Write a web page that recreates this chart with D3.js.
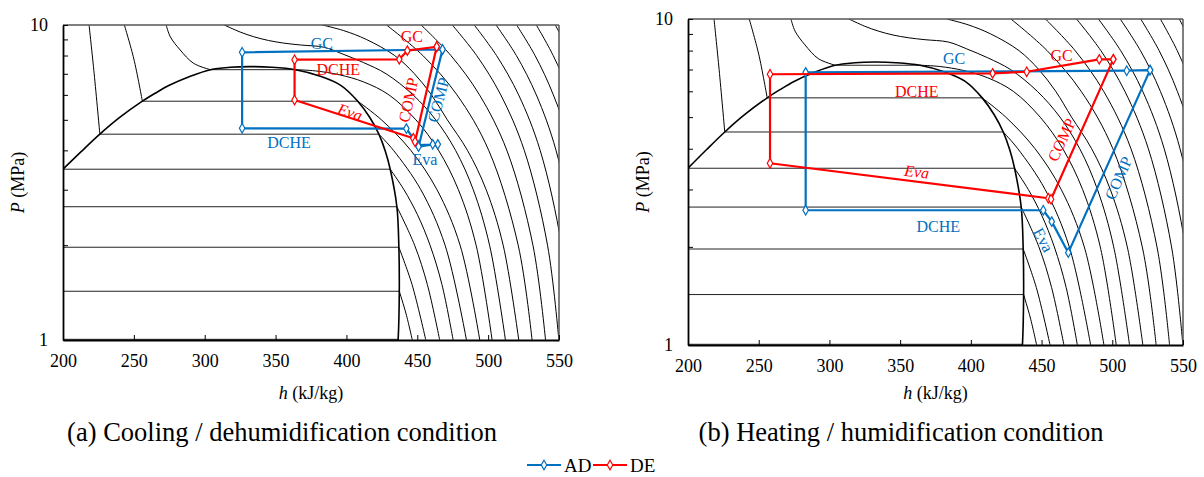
<!DOCTYPE html>
<html>
<head>
<meta charset="utf-8">
<script src="https://cdn.jsdelivr.net/npm/d3@7"></script>
<style>
  body { margin: 0; background: #fff; }
  svg { display: block; }
  text { font-family: "Liberation Serif", "Times New Roman", serif; fill: #000; }
</style>
</head>
<body>
<svg id="chart" width="1204" height="477"></svg>
<script>
// ---- axes ----
const hTicks = [200, 250, 300, 350, 400, 450, 500, 550];
const pLabels = [1, 10];
const pMinor = [2, 3, 4, 5, 6, 7, 8, 9];

// ---- CO2 saturation dome, [h kJ/kg, P MPa] ----
const satLiquid = [[200,3.485],[213,3.97],[226,4.502],[240,5.086],[256,5.729],[265,6.07],[275,6.434],[289,6.85],[304,7.214],[318,7.34],[332,7.377]];
const satVapor = [[332,7.377],[347,7.345],[364,7.214],[381,6.89],[396,6.434],[408,5.729],[416.5,5.086],[422.9,4.502],[427.5,3.97],[430.9,3.485],[435.6,2.649],[437,1.97],[437.3,1.428],[436.5,1.005],[436.3,0.98]];

// ---- two-phase isotherms -40 ... 30 °C: [P, h liquid, h vapour] ----
const twoPhase = [[1.005,113,436.5],[1.428,133,437.3],[1.97,155,437],[2.649,177,435.6],[3.485,200,430.9],[4.502,226,422.9],[5.729,256,408],[7.214,304,364]];

// ---- compressed-liquid isotherms ----
const liq10 = [[226,4.502],[222,7],[218.4,10]];
const liq20 = [[256,5.729],[250,7.8],[243.3,10]];
const liq30 = [[304,7.214],[292.1,7.56],[282.7,8.33],[275.7,9.18],[272.8,10]];

// ---- vapour / supercritical isotherms ----
const iso_m30 = [[446.5,1],[442.1,1.21],[437.3,1.428]];
const iso_m20 = [[456,1],[446.3,1.5],[437,1.97]];
const iso_m10 = [[465.8,1],[457.1,1.5],[448.1,2],[435.6,2.649]];
const iso_0 = [[475.3,1],[467.4,1.5],[459,2],[450.1,2.5],[440.6,3],[430.9,3.485]];
const iso_10 = [[484.7,1],[469.6,2],[452.5,3],[433.2,4],[422.9,4.502]];
const iso_20 = [[494.1,1],[480.2,2],[463.9,3],[445.4,4],[424.7,5],[408,5.729]];
const iso_30 = [[502.8,1],[491.5,2],[479,3],[465,4],[449,5],[430,6],[412,6.6],[395,6.95],[378,7.15],[364,7.214]];
const iso_40 = [[512.2,1],[501,2],[489.5,3],[477,4],[463,5],[447,6],[428,7],[412,7.6],[397,8.1],[384,8.5],[367.6,8.64],[355.8,8.76],[345,8.93],[334.6,9.18],[325,9.5],[313.8,10]];
const iso_50 = [[521.6,1],[510.6,2],[498.6,3],[485.4,4],[471.2,5],[460,6],[448,7],[434,8],[414,9],[398,9.6],[383,10]];
const iso_60 = [[531,1],[521.2,2],[500.4,4],[478,6],[453.9,8],[428.3,10]];
const iso_70 = [[540.5,1],[531.6,2],[513.2,4],[493.9,6],[473.7,8],[452.7,10]];
const iso_80 = [[549.9,1],[541.9,2],[525.5,4],[508.9,6],[491.9,8],[474.7,10]];
const iso_90 = [[559.2,1],[551.8,2],[536.7,4],[521.5,6],[505.9,8],[490.2,10]];
const iso_100 = [[568.5,1],[561.7,2],[547.9,4],[534,6],[519.9,8],[505.6,10]];
const iso_110 = [[577.8,1],[558.8,4],[546,6],[533.1,8],[520.1,10]];
const iso_120 = [[587.1,1],[569.7,4],[557.8,6],[545.9,8],[534,10]];
const iso_130 = [[596.4,1],[569.3,6],[558.3,8],[547.4,10]];

// ---- cycles [h, P] ----
const coolAD = [[467.8,8.36],[326.4,8.19],[326.4,4.70],[442.3,4.69],[450.5,4.16],[464.5,4.18],[460.9,4.18],[450.9,4.11],[467.8,8.36]];
const coolDE = [[463.7,8.53],[443.0,8.29],[437.3,7.78],[363.4,7.76],[363.4,5.78],[447.2,4.37],[448.4,4.26],[463.7,8.53]];
const heatAD = [[526.7,6.97],[510.2,6.94],[283.2,6.86],[283.2,2.59],[451.2,2.59],[457.2,2.39],[468.9,1.92],[526.7,6.97]];
const heatDE = [[500.7,7.52],[490.8,7.52],[439.5,6.89],[415.4,6.81],[258.0,6.77],[258.0,3.61],[454.8,2.82],[456.7,2.80],[500.7,7.52]];

// ---- process labels: text, h, P, rotation, series ----
const coolLabels = [
  ["GC", 382.6, 8.75, 0, "AD"], ["GC", 446.1, 9.18, 0, "DE"],
  ["DCHE", 394.3, 7.20, 0, "DE"], ["Eva", 402.5, 5.29, 18, "DE"],
  ["COMP", 443.7, 5.78, -78, "DE"], ["COMP", 464.8, 5.78, -75, "AD"],
  ["DCHE", 359.5, 4.25, 0, "AD"], ["Eva", 455.4, 3.73, 0, "AD"]
];
const heatLabels = [
  ["GC", 388.1, 7.58, 0, "AD"], ["GC", 464.2, 7.75, 0, "DE"],
  ["DCHE", 361.7, 5.98, 0, "DE"], ["Eva", 361.7, 3.40, 7, "DE"],
  ["COMP", 464.2, 4.26, -65, "DE"], ["COMP", 504.3, 3.25, -66, "AD"],
  ["DCHE", 377, 2.31, 0, "AD"], ["Eva", 451.2, 2.10, 62, "AD"]
];

const captions = ["(a) Cooling / dehumidification condition", "(b) Heating / humidification condition"];
const seriesNames = ["AD", "DE"];
const colors = { AD: "#0070C0", DE: "#FF0000" };

const vaporIsotherms = [iso_m30, iso_m20, iso_m10, iso_0, iso_10, iso_20, iso_30, iso_40, iso_50, iso_60, iso_70, iso_80, iso_90, iso_100, iso_110, iso_120, iso_130];
const liquidIsotherms = [liq10, liq20, liq30];

const svg = d3.select("#chart");

const panels = [
  { key: "a", left: 63, right: 559, top: 25, bottom: 340, cycles: { AD: coolAD, DE: coolDE }, labels: coolLabels, caption: captions[0], capX: 282 },
  { key: "b", left: 688, right: 1183, top: 19, bottom: 345, cycles: { AD: heatAD, DE: heatDE }, labels: heatLabels, caption: captions[1], capX: 901 }
];

panels.forEach(p => {
  const x = d3.scaleLinear().domain([200, 550]).range([p.left, p.right]);
  const y = d3.scaleLog().domain([1, 10]).range([p.bottom, p.top]);
  const g = svg.append("g");

  g.append("clipPath").attr("id", "clip-" + p.key)
    .append("rect").attr("x", p.left).attr("y", p.top)
    .attr("width", p.right - p.left).attr("height", p.bottom - p.top);

  const bg = g.append("g").attr("clip-path", `url(#clip-${p.key})`);
  const smooth = d3.line().x(d => x(d[0])).y(d => y(d[1])).curve(d3.curveCatmullRom.alpha(0.5));
  const straight = d3.line().x(d => x(d[0])).y(d => y(d[1]));

  // two-phase isotherms
  bg.selectAll(".tp").data(twoPhase).join("line")
    .attr("x1", d => x(d[1])).attr("x2", d => x(d[2]))
    .attr("y1", d => y(d[0])).attr("y2", d => y(d[0]))
    .attr("stroke", "#222").attr("stroke-width", 1);

  bg.selectAll(".liq").data(liquidIsotherms).join("path")
    .attr("d", smooth).attr("fill", "none").attr("stroke", "#000").attr("stroke-width", 1);
  bg.selectAll(".vap").data(vaporIsotherms).join("path")
    .attr("d", smooth).attr("fill", "none").attr("stroke", "#000").attr("stroke-width", 1);

  // saturation dome
  bg.append("path").attr("d", smooth(satLiquid.concat(satVapor.slice(1))))
    .attr("fill", "none").attr("stroke", "#000").attr("stroke-width", 1.6);

  // frame
  g.append("line").attr("x1", p.left).attr("x2", p.right).attr("y1", p.top).attr("y2", p.top)
    .attr("stroke", "#555").attr("stroke-width", 1.5);
  g.append("line").attr("x1", p.right).attr("x2", p.right).attr("y1", p.top).attr("y2", p.bottom)
    .attr("stroke", "#555").attr("stroke-width", 1.5);

  // x axis (ticks inward)
  const xa = g.append("g").attr("transform", `translate(0,${p.bottom})`)
    .call(d3.axisBottom(x).tickValues(hTicks).tickSizeInner(-5).tickSizeOuter(0).tickPadding(14));
  xa.select(".domain").attr("stroke", "#000").attr("stroke-width", 1.8);
  xa.selectAll("text").attr("font-size", 18).attr("font-family", "Liberation Serif");

  // y axis (log, minor ticks inward)
  const ya = g.append("g").attr("transform", `translate(${p.left},0)`)
    .call(d3.axisLeft(y).tickValues(pMinor.concat(pLabels)).tickSizeInner(-5).tickSizeOuter(0)
      .tickFormat(d => pLabels.includes(d) ? d : ""));
  ya.select(".domain").attr("stroke", "#000").attr("stroke-width", 1.8);
  ya.selectAll("text").attr("font-size", 18).attr("font-family", "Liberation Serif").attr("x", -15);

  // axis titles
  const xt = g.append("text").attr("x", (p.left + p.right) / 2).attr("y", 399)
    .attr("text-anchor", "middle").attr("font-size", 18);
  xt.append("tspan").attr("font-style", "italic").text("h");
  xt.append("tspan").text(" (kJ/kg)");
  const yt = g.append("text")
    .attr("transform", `translate(${p.left - 39},${(p.top + p.bottom) / 2}) rotate(-90)`)
    .attr("text-anchor", "middle").attr("font-size", 18);
  yt.append("tspan").attr("font-style", "italic").text("P");
  yt.append("tspan").text(" (MPa)");

  // cycles
  seriesNames.forEach(s => {
    const data = p.cycles[s];
    g.append("path").attr("d", straight(data)).attr("fill", "none")
      .attr("stroke", colors[s]).attr("stroke-width", 2.2).attr("stroke-linejoin", "round");
    g.selectAll(null).data(data).join("path")
      .attr("d", d3.symbol(d3.symbolDiamond, 26))
      .attr("transform", d => `translate(${x(d[0])},${y(d[1])})`)
      .attr("fill", "#fff").attr("stroke", colors[s]).attr("stroke-width", 1.2);
  });

  // process labels
  g.selectAll(null).data(p.labels).join("text")
    .attr("transform", d => `translate(${x(d[1])},${y(d[2])}) rotate(${d[3]})`)
    .attr("text-anchor", "middle").attr("dominant-baseline", "central")
    .attr("font-size", 16)
    .attr("font-style", d => d[0] === "Eva" && d[4] === "DE" ? "italic" : "normal")
    .style("fill", d => colors[d[4]])
    .text(d => d[0]);

  // caption
  g.append("text").attr("x", p.capX).attr("y", 441).attr("text-anchor", "middle")
    .attr("font-size", 26.5).text(p.caption);
});

// legend
const legend = svg.append("g").attr("transform", "translate(527,465)");
seriesNames.forEach((s, i) => {
  const lg = legend.append("g").attr("transform", `translate(${i * 66},0)`);
  lg.append("line").attr("x1", 0).attr("x2", 34).attr("y1", 0).attr("y2", 0)
    .attr("stroke", colors[s]).attr("stroke-width", 2.2);
  lg.append("path").attr("d", d3.symbol(d3.symbolDiamond, 26)).attr("transform", "translate(17,0)")
    .attr("fill", "#fff").attr("stroke", colors[s]).attr("stroke-width", 1.2);
  lg.append("text").attr("x", 37).attr("y", 0).attr("dominant-baseline", "central")
    .attr("font-size", 19).text(s);
});
</script>
</body>
</html>
